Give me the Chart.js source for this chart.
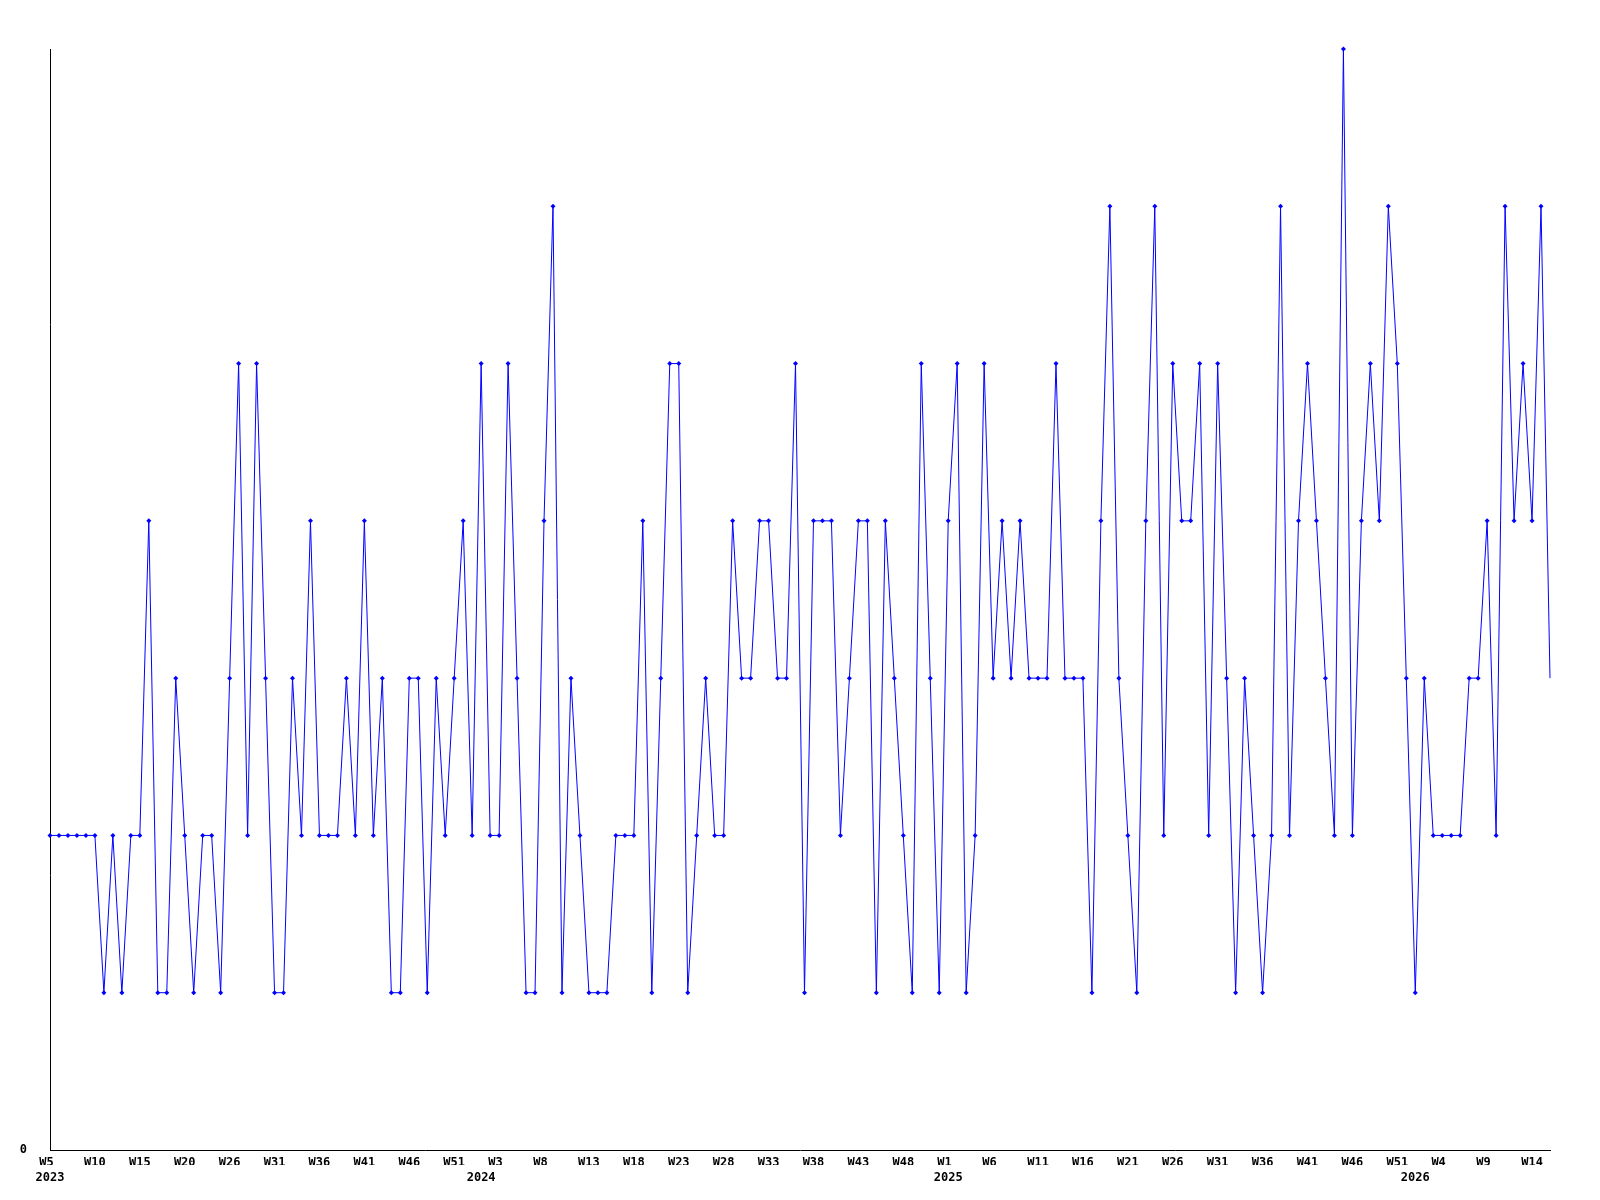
<!DOCTYPE html>
<html>
<head>
<meta charset="utf-8">
<title>Weekly count</title>
<script src="https://cdn.jsdelivr.net/npm/chart.js@4/dist/chart.umd.min.js"></script>
<style>
  body { margin: 0; background: #ffffff; }
  #canvas { display: block; }
</style>
</head>
<body>
<canvas id="canvas" width="1600" height="1200"></canvas>
<script>
// weekly values, one array per year (2023 starts at W5, 2026 ends at W16)
const values2023 = [2,2,2,2,2,2,1,2,1,2, 2,4,1,1,3,2,1,2,2,1, 3,5,2,5,3,1,1,3,2,4, 2,2,2,3,2,4,2,3,1,1, 3,3,1,3,2,3,4,2];
const values2024 = [5,2, 2,5,3,1,1,4,6,1,3,2, 1,1,1,2,2,2,4,1,3,5, 5,1,2,3,2,2,4,3,3,4, 4,3,3,5,1,4,4,4,2,3, 4,4,1,4,3,2,1,5,3,1];
const values2025 = [4,5,1,2,5,3,4,3,4,3, 3,3,5,3,3,3,1,4,6,3, 2,1,4,6,2,5,4,4,5,2, 5,3,1,3,2,1,2,6,2,4, 5,4,3,2,7,2,4,5,4,6, 5,3];
const values2026 = [1,3,2,2,2,2,3,3,4,2,6,4,5,4,6,3];

const years = [2023, 2024, 2025, 2026];
const firstWeeks = [5, 1, 1, 1];

// x axis text as printed under the chart, one every 5 weeks
const tickLabels = ["W5","W10","W15","W20","W26","W31","W36","W41","W46","W51",
  "W3","W8","W13","W18","W23","W28","W33","W38","W43","W48",
  "W1","W6","W11","W16","W21","W26","W31","W36","W41","W46",
  "W51","W4","W9","W14"];
const tickEvery = 5;

const yMax = 7;

// build the category list + one flat series, remember where each year starts
let weekLabels = [];
let values = [];
let yearStart = {};
[values2023, values2024, values2025, values2026].forEach((arr, k) => {
  yearStart[weekLabels.length] = String(years[k]);
  arr.forEach((v, j) => {
    weekLabels.push(years[k] + "-W" + (firstWeeks[k] + j));
    values.push(v);
  });
});

const font = { family: "'DejaVu Sans Mono', monospace", size: 12, weight: "bold", lineHeight: 1.25 };

const chart = new Chart(document.getElementById("canvas").getContext("2d"), {
  type: "line",
  data: {
    labels: weekLabels,
    datasets: [{
      data: values,
      borderColor: "#0000ff",
      backgroundColor: "#0000ff",
      borderWidth: 1,
      tension: 0,
      fill: false,
      clip: false,
      pointStyle: "rectRot",
      pointRadius: (ctx) => ctx.dataIndex === values.length - 1 ? 0 : 2.5,
      pointBorderWidth: 0,
      pointBackgroundColor: "#0000ff"
    }]
  },
  options: {
    responsive: false,
    animation: false,
    devicePixelRatio: 1,
    layout: {
      padding: { top: 49, right: 50, left: 0, bottom: 0 }
    },
    plugins: {
      legend: { display: false },
      tooltip: { enabled: false }
    },
    scales: {
      x: {
        type: "category",
        offset: false,
        grid: { display: true, drawOnChartArea: false, drawTicks: false },
        border: { display: true, color: "#000000", width: 1 },
        ticks: {
          autoSkip: false,
          maxRotation: 0,
          minRotation: 0,
          padding: 5,
          color: "#000000",
          font: font,
          callback: function(value, index) {
            if (index % tickEvery !== 0) return "";
            let n = index / tickEvery;
            if (n >= tickLabels.length) return "";
            // labels sit in a 3 character slot, so short ones lean left
            return tickLabels[n].padEnd(3, " ");
          }
        },
        afterFit: (scale) => { scale.height = 15; }
      },
      // second row: year under the first week of each year
      years: {
        type: "category",
        position: "bottom",
        offset: false,
        grid: { display: false },
        border: { display: false },
        ticks: {
          autoSkip: false,
          maxRotation: 0,
          minRotation: 0,
          padding: -3,
          color: "#000000",
          font: font,
          callback: (value, index) => yearStart[index] || ""
        },
        afterFit: (scale) => { scale.height = 35; }
      },
      y: {
        min: 0,
        max: yMax,
        grid: { display: true, drawOnChartArea: false, drawTicks: false },
        border: { display: true, color: "#000000", width: 1 },
        ticks: {
          stepSize: 1,
          padding: 23,
          color: "#000000",
          font: font,
          callback: (v) => v === 0 ? "0" : ""
        },
        afterFit: (scale) => { scale.width = 50; }
      }
    }
  }
});
</script>
</body>
</html>
